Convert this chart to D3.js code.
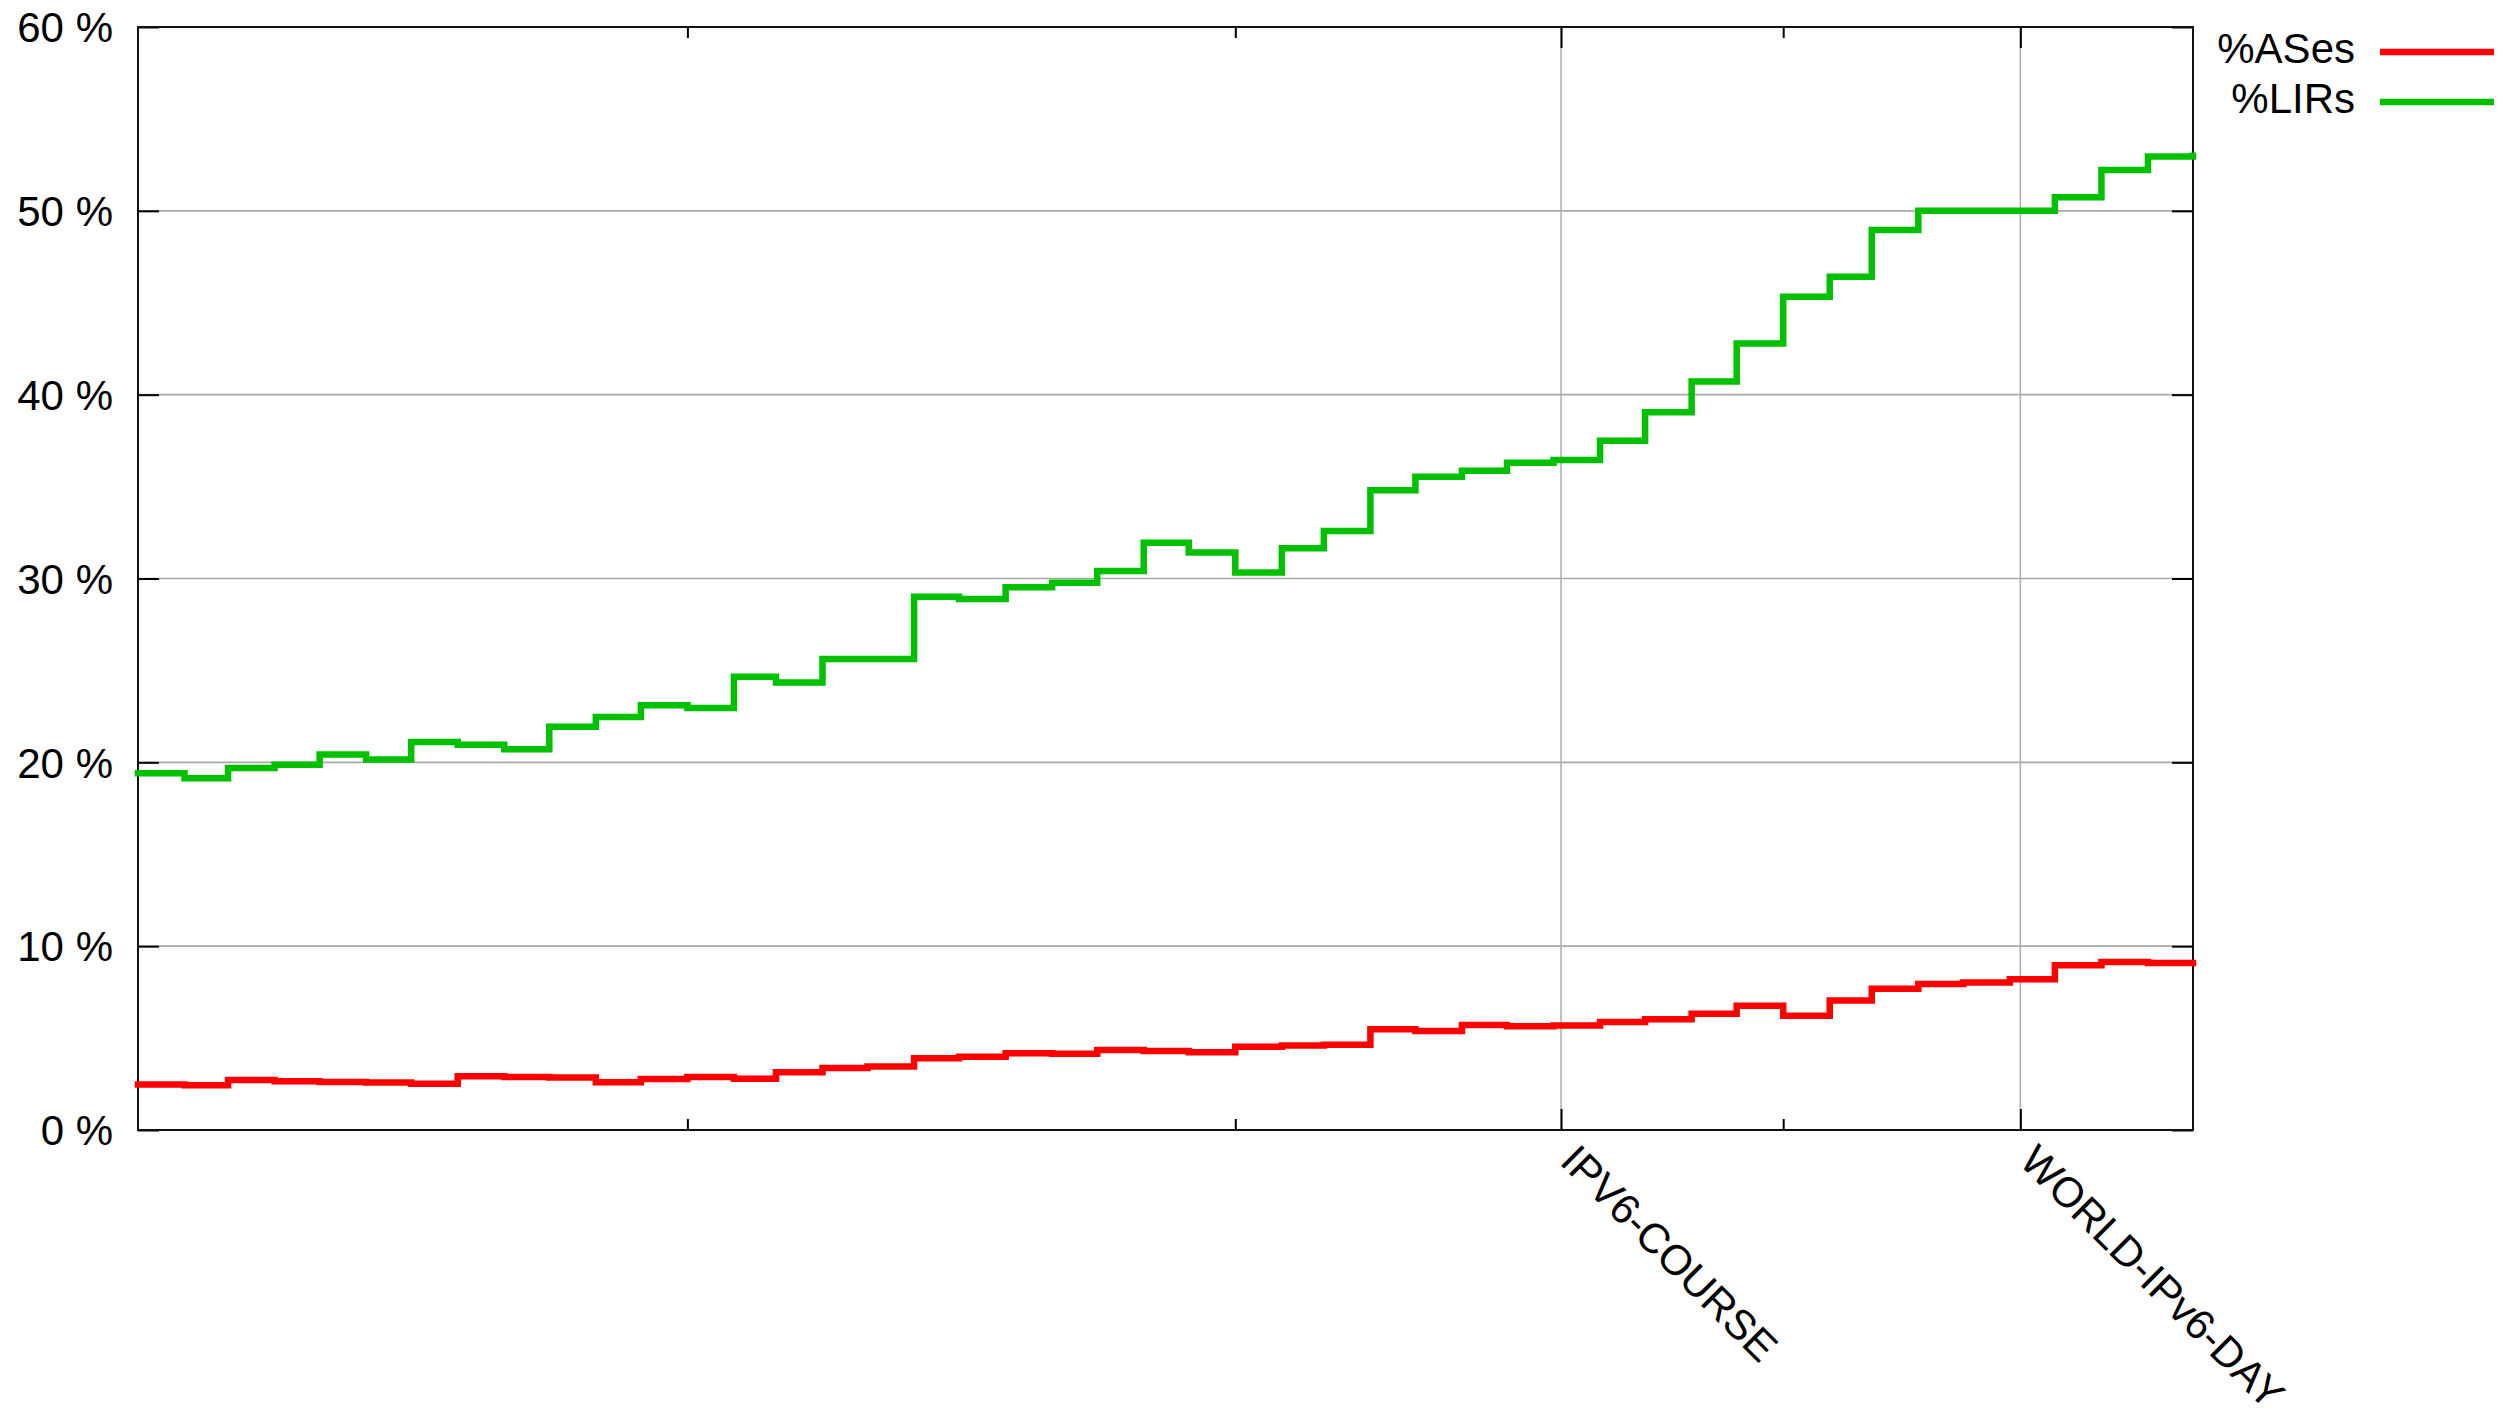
<!DOCTYPE html>
<html>
<head>
<meta charset="utf-8">
<script src="https://cdn.jsdelivr.net/npm/d3@7"></script>
<style>
  body { margin: 0; background: #fff; }
  text { font-family: "Liberation Sans", Arial, sans-serif; fill: #000; }
</style>
</head>
<body>
<div id="chart"></div>
<script>
// monthly samples, Jan 2008 .. Oct 2011
var months = [
  "2008-01","2008-02","2008-03","2008-04","2008-05","2008-06","2008-07","2008-08","2008-09","2008-10","2008-11","2008-12",
  "2009-01","2009-02","2009-03","2009-04","2009-05","2009-06","2009-07","2009-08","2009-09","2009-10","2009-11","2009-12",
  "2010-01","2010-02","2010-03","2010-04","2010-05","2010-06","2010-07","2010-08","2010-09","2010-10","2010-11","2010-12",
  "2011-01","2011-02","2011-03","2011-04","2011-05","2011-06","2011-07","2011-08","2011-09","2011-10"
];

var asesPct = [
  2.48, 2.44, 2.72, 2.65, 2.61, 2.59, 2.52, 2.93, 2.88, 2.86, 2.60, 2.78,
  2.88, 2.79, 3.14, 3.37, 3.46, 3.90, 3.99, 4.18, 4.15, 4.35, 4.30, 4.23,
  4.53, 4.60, 4.64, 5.48, 5.39, 5.71, 5.64, 5.68, 5.87, 6.02, 6.33, 6.76,
  6.22, 7.04, 7.69, 7.94, 8.03, 8.20, 8.96, 9.14, 9.08, 9.08
];

var lirsPct = [
  19.40, 19.13, 19.69, 19.87, 20.43, 20.15, 21.11, 20.96, 20.71, 21.94, 22.46, 23.11,
  22.95, 24.66, 24.34, 25.62, 25.62, 29.01, 28.89, 29.52, 29.77, 30.41, 31.95, 31.41,
  30.32, 31.64, 32.58, 34.80, 35.54, 35.86, 36.30, 36.45, 37.50, 39.04, 40.71, 42.79,
  45.33, 46.42, 48.96, 50.00, 50.00, 50.00, 50.74, 52.22, 52.95, 53.00
];

var seriesNames = ["%ASes", "%LIRs"];
var seriesColors = ["#ff0000", "#00c000"];

var yTicks = [0, 10, 20, 30, 40, 50, 60];
var yearTicks = ["2009-01-01", "2010-01-01", "2011-01-01"];
var eventDates = ["2010-08-06", "2011-06-08"];
var eventLabels = ["IPV6-COURSE", "WORLD-IPv6-DAY"];

var W = 2517, H = 1409;
var plotL = 138, plotR = 2193, plotT = 27, plotB = 1130;

var parseMonth = d3.utcParse("%Y-%m");
var parseDay = d3.utcParse("%Y-%m-%d");

var dates = months.map(parseMonth);
var series = [asesPct, lirsPct].map(function(vals) {
  return vals.map(function(v, i) { return {date: dates[i], v: v}; });
});

var svg = d3.select("#chart").append("svg")
  .attr("width", W)
  .attr("height", H);

svg.append("rect").attr("width", W).attr("height", H).attr("fill", "#fff");

var x = d3.scaleUtc()
  .domain(d3.extent(dates))
  .range([plotL, plotR]);

var y = d3.scaleLinear()
  .domain([0, 60])
  .range([plotB, plotT]);

// grid
svg.append("g")
  .selectAll("line")
  .data(yTicks.filter(function(d) { return d > 0 && d < 60; }))
  .enter().append("line")
    .attr("x1", plotL).attr("x2", plotR)
    .attr("y1", function(d) { return y(d); })
    .attr("y2", function(d) { return y(d); })
    .attr("stroke", "#a8a8a8")
    .attr("stroke-width", 1.6);

svg.append("g")
  .selectAll("line")
  .data(eventDates.map(parseDay))
  .enter().append("line")
    .attr("x1", function(d) { return x(d); })
    .attr("x2", function(d) { return x(d); })
    .attr("y1", plotT).attr("y2", plotB)
    .attr("stroke", "#b0b0b0")
    .attr("stroke-width", 1.6);

function styleAxis(g) {
  g.select(".domain").remove();
  g.selectAll(".tick line").attr("stroke", "#000").attr("stroke-width", 2);
  g.attr("font-family", null).attr("font-size", null);
}

// y axes (ticks point inward)
svg.append("g")
  .attr("transform", "translate(" + plotL + ",0)")
  .call(d3.axisLeft(y).tickValues(yTicks).tickSize(-21).tickPadding(25)
    .tickFormat(function(d) { return d + " %"; }))
  .call(styleAxis)
  .selectAll("text")
    .style("font-size", "42px")
    .attr("dy", "0.35em");

svg.append("g")
  .attr("transform", "translate(" + plotR + ",0)")
  .call(d3.axisRight(y).tickValues(yTicks).tickSize(-21).tickFormat(""))
  .call(styleAxis);

// x axes: short yearly ticks, long labelled event ticks
svg.append("g")
  .attr("transform", "translate(0," + plotB + ")")
  .call(d3.axisBottom(x).tickValues(yearTicks.map(parseDay)).tickSize(-11).tickFormat(""))
  .call(styleAxis);

svg.append("g")
  .attr("transform", "translate(0," + plotT + ")")
  .call(d3.axisTop(x).tickValues(yearTicks.map(parseDay)).tickSize(-11).tickFormat(""))
  .call(styleAxis);

svg.append("g")
  .attr("transform", "translate(0," + plotT + ")")
  .call(d3.axisTop(x).tickValues(eventDates.map(parseDay)).tickSize(-21).tickFormat(""))
  .call(styleAxis);

svg.append("g")
  .attr("transform", "translate(0," + plotB + ")")
  .call(d3.axisBottom(x).tickValues(eventDates.map(parseDay)).tickSize(-21)
    .tickFormat(function(d, i) { return eventLabels[i]; }))
  .call(styleAxis)
  .selectAll("text")
    .style("font-size", "42px")
    .attr("y", 0)
    .attr("dy", 0)
    .attr("text-anchor", "start")
    .attr("transform", "translate(-3,33) rotate(45)");

// border
svg.append("rect")
  .attr("x", plotL).attr("y", plotT)
  .attr("width", plotR - plotL).attr("height", plotB - plotT)
  .attr("fill", "none")
  .attr("stroke", "#111")
  .attr("stroke-width", 2);

// step lines
var line = d3.line()
  .x(function(d) { return x(d.date); })
  .y(function(d) { return y(d.v); })
  .curve(d3.curveStepAfter);

svg.append("g")
  .selectAll("path")
  .data(series)
  .enter().append("path")
    .attr("d", line)
    .attr("fill", "none")
    .attr("stroke", function(d, i) { return seriesColors[i]; })
    .attr("stroke-width", 6.5)
    .attr("stroke-linejoin", "miter")
    .attr("stroke-linecap", "square");

// legend
var leg = svg.append("g")
  .selectAll("g")
  .data(seriesNames)
  .enter().append("g")
    .attr("transform", function(d, i) { return "translate(0," + (i * 50) + ")"; });

leg.append("text")
  .attr("x", 2355)
  .attr("y", 63)
  .attr("text-anchor", "end")
  .style("font-size", "42px")
  .text(function(d) { return d; });

leg.append("line")
  .attr("x1", 2380).attr("x2", 2494)
  .attr("y1", 52).attr("y2", 52)
  .attr("stroke", function(d, i) { return seriesColors[i]; })
  .attr("stroke-width", 6.5);
</script>
</body>
</html>
